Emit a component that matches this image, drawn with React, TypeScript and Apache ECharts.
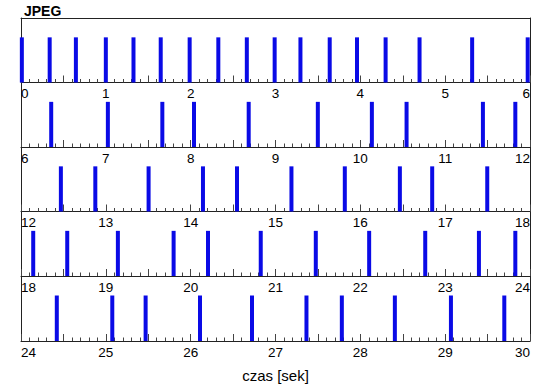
import React, { useEffect, useRef } from "react";
import * as echarts from "echarts";

const title = "JPEG";
const axisName = "czas [sek]";
const stripSeconds = 6;
const barValue = 0.7;

const strip1 = [0.01, 0.338, 0.647, 1.0, 1.326, 1.647, 1.988, 2.326, 2.662, 2.99, 3.294, 3.639, 3.961, 4.298, 4.698, 5.318, 5.973];
const strip2 = [6.356, 7.024, 7.666, 8.039, 8.684, 9.499, 10.136, 10.545, 11.445, 11.827];
const strip3 = [12.47, 12.876, 13.504, 14.145, 14.546, 15.188, 15.817, 16.466, 16.847, 17.496];
const strip4 = [18.144, 18.545, 19.142, 19.799, 20.204, 20.826, 21.475, 22.104, 22.765, 23.398, 23.827];
const strip5 = [24.422, 25.076, 25.469, 26.11, 26.723, 27.365, 27.782, 28.407, 29.068, 29.697];

const strips = [strip1, strip2, strip3, strip4, strip5];

export default function App() {
  const ref = useRef<HTMLDivElement>(null);
  useEffect(() => {
    if (!ref.current) return;
    const chart = echarts.init(ref.current, null, { renderer: "svg" });
    const font = "'Liberation Sans', Arial, Helvetica, sans-serif";
    const top0 = 18;
    const h = 64.5;
    const grids: any[] = [];
    const xAxes: any[] = [];
    const yAxes: any[] = [];
    const series: any[] = [];
    const n = strips.length;
    strips.forEach((data, k) => {
      const min = k * stripSeconds;
      grids.push({ left: 21, width: 509, top: top0 + h * k, height: h + (k === n - 1 ? 0.5 : 0) });
      xAxes.push({
        type: "value",
        gridIndex: k,
        min,
        max: min + stripSeconds,
        interval: 0.5,
        position: "bottom",
        name: k === n - 1 ? axisName : "",
        nameLocation: "middle",
        nameGap: 27,
        nameTextStyle: { fontFamily: font, fontSize: 15, color: "#000" },
        axisLine: { show: true, onZero: false, lineStyle: { color: "#222", width: 1 } },
        axisTick: { show: true, inside: true, length: 7, lineStyle: { color: "#444", width: 1 } },
        minorTick: { show: true, splitNumber: 5, length: 3.5, lineStyle: { color: "#444", width: 1 } },
        splitLine: { show: false },
        minorSplitLine: { show: false },
        axisLabel: {
          show: true,
          margin: 4,
          fontFamily: font,
          fontSize: 13.5,
          color: "#000",
          alignMinLabel: "left",
          alignMaxLabel: "right",
          showMinLabel: true,
          showMaxLabel: true,
          formatter: (v: number) => (Math.abs(v - Math.round(v)) < 1e-6 ? String(Math.round(v)) : ""),
        },
      });
      yAxes.push({
        type: "value",
        gridIndex: k,
        min: 0,
        max: 1,
        position: "left",
        axisLine: { show: true, onZero: false, lineStyle: { color: "#222", width: 1 } },
        axisTick: { show: false },
        axisLabel: { show: false },
        splitLine: { show: false },
      });
      series.push({
        type: "bar",
        xAxisIndex: k,
        yAxisIndex: k,
        barWidth: 4,
        itemStyle: { color: "#0a0ae6" },
        data: data.map((t) => [t, barValue]),
      });
    });
    strips.forEach((_, k) => {
      yAxes.push({
        type: "value",
        gridIndex: k,
        min: 0,
        max: 1,
        position: "right",
        axisLine: { show: true, onZero: false, lineStyle: { color: "#222", width: 1 } },
        axisTick: { show: false },
        axisLabel: { show: false },
        splitLine: { show: false },
      });
    });
    xAxes.push({
      type: "value",
      gridIndex: 0,
      min: 0,
      max: stripSeconds,
      position: "top",
      axisLine: { show: true, onZero: false, lineStyle: { color: "#222", width: 1 } },
      axisTick: { show: false },
      axisLabel: { show: false },
      splitLine: { show: false },
    });
    chart.setOption({
      animation: false,
      backgroundColor: "#fff",
      title: {
        text: title,
        left: 24,
        top: 4,
        padding: 0,
        textStyle: { fontFamily: font, fontSize: 14, fontWeight: "bold", color: "#000" },
      },
      grid: grids,
      xAxis: xAxes,
      yAxis: yAxes,
      series,
    });
    return () => chart.dispose();
  }, []);
  return (
    <div
      ref={ref}
      style={{ position: "fixed", left: 0, top: 0, width: 550, height: 389, background: "#fff" }}
    />
  );
}
